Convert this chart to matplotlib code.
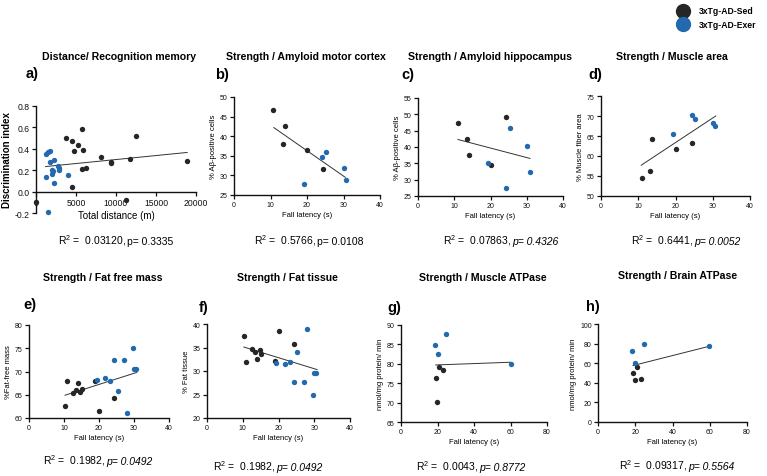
import matplotlib
matplotlib.use('Agg')
import matplotlib.pyplot as plt

plt.rcParams['font.family'] = ['Liberation Sans', 'DejaVu Sans']
plt.rcParams['mathtext.fontset'] = 'custom'
plt.rcParams['mathtext.rm'] = 'Liberation Sans'
plt.rcParams['mathtext.it'] = 'Liberation Sans:italic'
plt.rcParams['mathtext.bf'] = 'Liberation Sans:bold'
plt.rcParams['mathtext.default'] = 'regular'

W, H = 767, 477
SED = '#262626'
EXER = '#2369ad'

# ---------------- data ----------------
# a) Distance / Recognition memory
a_sed_x = [0, 3700, 4500, 5200, 5700, 4700, 5900, 5750, 6300, 4500, 8100, 9400, 9400, 11700, 12500, 18900, 11300]
a_sed_y = [-0.10, 0.50, 0.47, 0.44, 0.585, 0.38, 0.39, 0.215, 0.22, 0.045, 0.32, 0.28, 0.27, 0.305, 0.515, 0.285, -0.08]
a_exer_x = [1200, 1450, 1700, 1700, 2300, 1300, 1950, 2100, 2050, 2200, 2800, 2900, 2850, 3950, 1500]
a_exer_y = [0.355, 0.37, 0.38, 0.28, 0.295, 0.135, 0.205, 0.19, 0.16, 0.085, 0.24, 0.22, 0.205, 0.155, -0.19]
a_fit_x = [1200, 18900]
a_fit_y = [0.234, 0.366]

# b) Strength / Amyloid motor cortex
b_sed_x = [10.8, 14.0, 13.3, 19.9, 24.3]
b_sed_y = [46.8, 42.6, 38.1, 36.5, 31.6]
b_exer_x = [19.3, 24.2, 25.3, 30.0, 30.6]
b_exer_y = [27.8, 34.8, 35.9, 32.0, 28.9]
b_fit_x = [10.9, 30.5]
b_fit_y = [42.2, 29.5]

# c) Strength / Amyloid hippocampus
c_sed_x = [11.1, 13.4, 14.0, 20.2, 24.4]
c_sed_y = [47.5, 42.6, 37.6, 34.5, 49.3]
c_exer_x = [19.3, 25.5, 30.0, 30.8, 24.4]
c_exer_y = [35.1, 45.8, 40.2, 32.2, 27.3]
c_fit_x = [11.0, 30.9]
c_fit_y = [42.3, 36.5]

# d) Strength / Muscle area
d_sed_x = [10.9, 13.2, 13.8, 20.0, 24.3]
d_sed_y = [54.5, 56.2, 64.3, 61.8, 63.2]
d_exer_x = [19.4, 24.3, 25.3, 30.0, 30.6]
d_exer_y = [65.4, 70.3, 69.3, 68.3, 67.5]
d_fit_x = [10.8, 30.8]
d_fit_y = [57.7, 70.0]

# e) Strength / Fat free mass
e_sed_x = [10.3, 10.9, 12.6, 13.3, 14.0, 14.7, 15.2, 18.9, 20.0, 24.4]
e_sed_y = [62.6, 68.0, 65.4, 66.0, 67.5, 65.6, 66.3, 67.9, 61.5, 64.2]
e_exer_x = [19.3, 21.7, 23.2, 25.3, 24.3, 27.2, 27.9, 29.6, 29.9, 30.6]
e_exer_y = [68.2, 68.5, 68.0, 65.9, 72.4, 72.4, 61.0, 75.0, 70.5, 70.5]
e_fit_x = [10.3, 30.8]
e_fit_y = [64.9, 69.8]

# f) Strength / Fat tissue
f_sed_x = [10.3, 10.9, 12.6, 13.3, 14.0, 14.7, 15.2, 18.9, 20.0, 24.4]
f_sed_y = [37.4, 32.0, 34.6, 34.0, 32.5, 34.4, 33.7, 32.1, 38.5, 35.8]
f_exer_x = [19.3, 21.7, 23.2, 25.3, 24.3, 27.2, 27.9, 29.6, 29.9, 30.6]
f_exer_y = [31.8, 31.5, 32.0, 34.1, 27.6, 27.6, 39.0, 25.0, 29.5, 29.5]
f_fit_x = [10.3, 30.8]
f_fit_y = [35.1, 30.3]

# g) Strength / Muscle ATPase
g_sed_x = [20.8, 23.0, 19.0, 19.9]
g_sed_y = [79.1, 78.5, 76.4, 70.2]
g_exer_x = [18.6, 20.1, 24.8, 60.1]
g_exer_y = [84.8, 82.4, 87.8, 80.0]
g_fit_x = [19.0, 60.0]
g_fit_y = [79.7, 80.4]

# h) Strength / Brain ATPase
h_sed_x = [18.8, 20.0, 21.0, 22.9]
h_sed_y = [50.2, 42.4, 55.9, 43.7]
h_exer_x = [18.4, 20.0, 24.5, 59.8]
h_exer_y = [72.5, 60.3, 79.3, 77.6]
h_fit_x = [18.8, 59.8]
h_fit_y = [57.6, 77.3]

titles = ['Distance/ Recognition memory', 'Strength / Amyloid motor cortex',
          'Strength / Amyloid hippocampus', 'Strength / Muscle area',
          'Strength / Fat free mass', 'Strength / Fat tissue',
          'Strength / Muscle ATPase', 'Strength / Brain ATPase']
letters = ['a)', 'b)', 'c)', 'd)', 'e)', 'f)', 'g)', 'h)']
xlabels = ['Total distance (m)'] + ['Fall latency (s)'] * 7
ylabels = ['Discrimination index', '% A\u03b2-positive cells', '% A\u03b2-positive cells',
           '% Muscle fiber area', '%Fat-free mass', '% Fat tissue',
           'nmol/mg protein/ min', 'nmol/mg protein/ min']
r2_text = ['0.03120', '0.5766', '0.07863', '0.6441', '0.1982', '0.1982', '0.0043', '0.09317']
p_text = ['0.3335', '0.0108', '0.4326', '0.0052', '0.0492', '0.0492', '0.8772', '0.5564']
p_italic = [False, False, True, True, True, True, True, True]
legend_labels = ['3xTg-AD-Sed', '3xTg-AD-Exer']

panels = [
    (a_sed_x, a_sed_y, a_exer_x, a_exer_y, a_fit_x, a_fit_y),
    (b_sed_x, b_sed_y, b_exer_x, b_exer_y, b_fit_x, b_fit_y),
    (c_sed_x, c_sed_y, c_exer_x, c_exer_y, c_fit_x, c_fit_y),
    (d_sed_x, d_sed_y, d_exer_x, d_exer_y, d_fit_x, d_fit_y),
    (e_sed_x, e_sed_y, e_exer_x, e_exer_y, e_fit_x, e_fit_y),
    (f_sed_x, f_sed_y, f_exer_x, f_exer_y, f_fit_x, f_fit_y),
    (g_sed_x, g_sed_y, g_exer_x, g_exer_y, g_fit_x, g_fit_y),
    (h_sed_x, h_sed_y, h_exer_x, h_exer_y, h_fit_x, h_fit_y),
]

# ---------------- layout (pixels) ----------------
boxes = [  # x0, x1, ytop, ybottom
    (36, 196, 107, 214),
    (234, 380, 98, 196),
    (418, 563, 99, 197),
    (601, 750, 97, 197),
    (29, 169, 326, 419),
    (207, 350, 325, 419),
    (401, 547, 326, 423),
    (598, 747, 325, 423),
]
lims = [
    ((0, 20000), (-0.2, 0.8), [0, 5000, 10000, 15000, 20000], [-0.2, 0.0, 0.2, 0.4, 0.6, 0.8]),
    ((0, 40), (25, 50), [0, 10, 20, 30, 40], [25, 30, 35, 40, 45, 50]),
    ((0, 40), (25, 55), [0, 10, 20, 30, 40], [25, 30, 35, 40, 45, 50, 55]),
    ((0, 40), (50, 75), [0, 10, 20, 30, 40], [50, 55, 60, 65, 70, 75]),
    ((0, 40), (60, 80), [0, 10, 20, 30, 40], [60, 65, 70, 75, 80]),
    ((0, 40), (20, 40), [0, 10, 20, 30, 40], [20, 25, 30, 35, 40]),
    ((0, 80), (65, 90), [0, 20, 40, 60, 80], [65, 70, 75, 80, 85, 90]),
    ((0, 80), (0, 100), [0, 20, 40, 60, 80], [0, 20, 40, 60, 80, 100]),
]
title_pos = [(119, 57), (306, 57), (490, 57), (672, 57),
             (103, 278), (287, 278), (483, 278), (678, 276)]
letter_pos = [(32, 74), (222, 75), (408, 75), (595, 75),
              (30, 305), (204, 308), (394, 308), (593, 307)]
r2_pos = [(58, 245), (254, 245), (443, 245), (631, 245),
          (43, 465), (213, 471), (416, 471), (619, 470)]

fig = plt.figure(figsize=(W / 100, H / 100), dpi=100)


def fx(x):
    return x / W


def fy(y):
    return 1 - y / H


first_parts = []
for i, (sx, sy, ex, ey, lx, ly) in enumerate(panels):
    x0, x1, yt, yb = boxes[i]
    ax = fig.add_axes([fx(x0), fy(yb), (x1 - x0) / W, (yb - yt) / H])
    xl, yl, xt, yt_ = lims[i]
    big = (i == 0)
    fs_tick = 6.2 if big else 5
    fs_lab = 7 if big else 5.5
    ax.plot(lx, ly, color='#333333', lw=0.7, zorder=2)
    ax.scatter(sx, sy, s=15, color=SED, zorder=3, clip_on=False, linewidths=0)
    ax.scatter(ex, ey, s=15, color=EXER, zorder=3, clip_on=False, linewidths=0)
    ax.set_xlim(*xl)
    ax.set_ylim(*yl)
    ax.set_xticks(xt)
    ax.set_yticks(yt_)
    if big:
        ax.set_yticklabels(['%.1f' % v for v in yt_])
        ax.spines['bottom'].set_position(('data', 0))
    for s in ['top', 'right']:
        ax.spines[s].set_visible(False)
    for s in ['left', 'bottom']:
        ax.spines[s].set_linewidth(1.0)
        ax.spines[s].set_color('#111111')
    ax.tick_params(direction='out', length=3, width=0.9, labelsize=fs_tick, pad=1.5,
                   colors='#111111')
    ax.set_xlabel(xlabels[i], fontsize=fs_lab, labelpad=2)
    ax.set_ylabel(ylabels[i], fontsize=fs_lab, labelpad=2,
                  fontweight='bold' if big else 'normal')
    ax.patch.set_alpha(0)

    fig.text(fx(title_pos[i][0]), fy(title_pos[i][1]), titles[i], ha='center', va='center',
             fontsize=7.6, fontweight='bold')
    fig.text(fx(letter_pos[i][0]), fy(letter_pos[i][1]), letters[i], ha='center', va='center',
             fontsize=10.5, fontweight='bold')
    t1 = fig.text(fx(r2_pos[i][0]), fy(r2_pos[i][1]), 'R$^2$ =  ' + r2_text[i] + ', ',
                  ha='left', va='baseline', fontsize=7.5)
    first_parts.append(t1)

# place the p-value part right after each R^2 part on the same baseline
fig.canvas.draw()
renderer = fig.canvas.get_renderer()
for i, t1 in enumerate(first_parts):
    bb = t1.get_window_extent(renderer)
    fig.text(bb.x1 / fig.bbox.width, fy(r2_pos[i][1]), 'p= ' + p_text[i],
             ha='left', va='baseline', fontsize=7.5,
             style='italic' if p_italic[i] else 'normal')

# legend
leg_colors = [SED, EXER]
leg_y = [12, 25]
for lab, col, yy in zip(legend_labels, leg_colors, leg_y):
    fig.add_artist(plt.Line2D([fx(683)], [fy(yy)], marker='o', markersize=10, color=col,
                              linestyle='none', transform=fig.transFigure))
    fig.text(fx(699), fy(yy), lab, ha='left', va='center', fontsize=6.2, fontweight='bold')

fig.savefig('out.png', dpi=100)
